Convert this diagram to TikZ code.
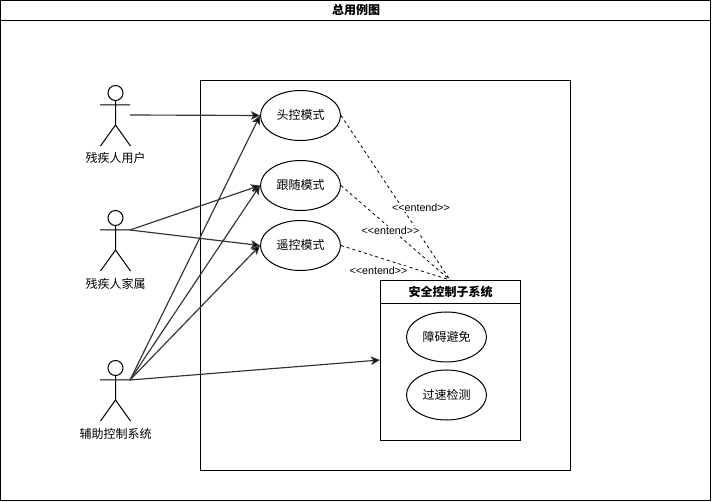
\documentclass[tikz,border=0pt]{standalone}
\usepackage{fontspec}
\setmainfont{Liberation Sans}
\newfontfamily\cjk{Noto Sans CJK SC}
\usetikzlibrary{arrows.meta,shapes.geometric}
\tikzset{
  usecase/.style={draw=black,line width=1pt,ellipse,fill=white,minimum width=80pt,minimum height=50pt,inner sep=0pt,font=\fontsize{12}{14}\selectfont\cjk},
  frameline/.style={draw=black,line width=1pt},
  headtxt/.style={font=\fontsize{12}{14}\selectfont\cjk\bfseries,inner sep=0pt},
  actortxt/.style={font=\fontsize{12}{14}\selectfont\cjk,inner sep=0pt},
  assoc/.style={draw=black!80,line width=1.15pt,-{Stealth[length=9pt,width=8.5pt,inset=2pt,fill=black]}},
  ext/.style={draw=black,line width=.8pt,dash pattern=on 3pt off 3pt},
  extlabel/.style={font=\fontsize{10.7}{12}\selectfont,fill=white,inner sep=.5pt},
}
\newcommand{\uct}[1]{\raisebox{1.5pt}{#1}}
\newcommand{\stickman}[2]{%
  \draw[frameline] (115.5,#1-12) circle (7.5);
  \draw[frameline] (115.5,#1-4.5) -- (115.5,#1+20) (100,#1) -- (130,#1)
    (100.5,#1+41) -- (115.5,#1+20) -- (130.5,#1+41);
  \coordinate (#2) at (130,#1);
}
\begin{document}
\begin{tikzpicture}[x=1pt,y=-1pt]
\useasboundingbox (0,0) rectangle (712,502);
\fill[white] (0,0) rectangle (712,502);
% outer frame
\draw[frameline] (0.5,0.5) rectangle (710.5,500.5);
\draw[frameline] (0.5,20.5) -- (710.5,20.5);
\node[headtxt] (title) at (356,10) {总用例图};
% system boundary
\draw[frameline] (200.5,80.5) rectangle (570.5,470.5);
% actors
\stickman{105}{acta}
\stickman{230}{actb}
\stickman{380}{actc}
\coordinate (actaout) at (130,115);
\node[actortxt] (la) at (115.5,158) {残疾人用户};
\node[actortxt] (lb) at (115.5,284) {残疾人家属};
\node[actortxt] (lc) at (115.5,434) {辅助控制系统};
% use cases
\node[usecase] (u1) at (300.5,115.5) {\uct{头控模式}};
\node[usecase] (u2) at (300.5,185.5) {\uct{跟随模式}};
\node[usecase] (u3) at (300.5,245.5) {\uct{遥控模式}};
% subsystem
\draw[frameline] (380.5,280.5) rectangle (520.5,440.5);
\draw[frameline] (380.5,303.5) -- (520.5,303.5);
\coordinate (subtop) at (450,280);
\coordinate (subleft) at (380,360);
\node[headtxt] (subt) at (450.5,292) {安全控制子系统};
\node[usecase] (s1) at (446.5,337) {\uct{障碍避免}};
\node[usecase] (s2) at (446.5,395) {\uct{过速检测}};
% associations
\draw[assoc] (actaout) -- (u1.west);
\draw[assoc] (actb) -- (u2.west);
\draw[assoc] (actb) -- (u3.west);
\draw[assoc] (actc) -- (u1.west);
\draw[assoc] (actc) -- (u2.west);
\draw[assoc] (actc) -- (u3.west);
\draw[assoc] (actc) -- (subleft);
% extends
\draw[ext] (u1.east) -- (subtop);
\draw[ext] (u2.east) -- (subtop);
\draw[ext] (u3.east) -- (subtop);
\node[extlabel] (e1) at (421,207.5) {<{}<entend>{}>};
\node[extlabel] (e2) at (390.5,230.5) {<{}<entend>{}>};
\node[extlabel] (e3) at (378.5,270.5) {<{}<entend>{}>};
\end{tikzpicture}
\end{document}
